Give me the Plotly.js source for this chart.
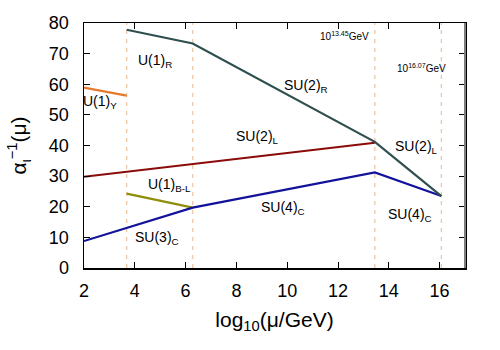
<!DOCTYPE html>
<html>
<head>
<meta charset="utf-8">
<script src="https://cdn.plot.ly/plotly-3.0.1.min.js"></script>
<style>body{margin:0;background:#fff}</style>
</head>
<body>
<div id="rge" style="width:500px;height:350px"></div>
<script>
// breaking scales (log10 of GeV)
var thresholds = [3.68, 6.28, 13.45, 16.07];

// running couplings, one array per segment
var u1yX = [2, 3.68], u1yY = [58.9, 56.3];
var rightX = [3.68, 6.28, 13.45, 16.07], rightY = [77.8, 73.3, 41.2, 23.5];
var su2lX = [2, 13.45], su2lY = [29.8, 40.9];
var colorX = [2, 6.28, 13.45, 16.07], colorY = [8.8, 19.7, 31.2, 23.5];
var bmlX = [3.68, 6.28], bmlY = [24.3, 19.7];

// labels
var labTxt = ['U(1)<sub>R</sub>', 'U(1)<sub>Y</sub>', 'SU(2)<sub>R</sub>', 'SU(2)<sub>L</sub>', 'SU(2)<sub>L</sub>',
  'U(1)<sub>B-L</sub>', 'SU(3)<sub>C</sub>', 'SU(4)<sub>C</sub>', 'SU(4)<sub>C</sub>'];
var labX = [4.8, 2.63, 10.75, 8.85, 15.1, 5.38, 4.88, 9.85, 14.85];
var labY = [67.6, 54.3, 59.5, 42.8, 39.6, 27.1, 9.8, 19.6, 17.3];
var scaleTxt = ['10<sup>13.45</sup>GeV', '10<sup>16.07</sup>GeV'];
var scaleX = [12.26, 15.3];
var scaleY = [75.8, 65.4];

function seg(x, y, c) {
  return {x: x, y: y, type: 'scatter', mode: 'lines', line: {color: c, width: 2.2}, hoverinfo: 'skip'};
}

var data = [
  seg(u1yX, u1yY, '#e5792c'),
  seg(su2lX, su2lY, '#8b0a0a'),
  seg(bmlX, bmlY, '#8e8e08'),
  seg(colorX, colorY, '#12129a'),
  seg(rightX, rightY, '#2f4f4f')
];

var shapes = thresholds.map(function (t) {
  return {type: 'line', xref: 'x', yref: 'y', x0: t, x1: t, y0: 0, y1: 80,
    line: {color: '#eec8a4', width: 1.3, dash: '4px,5px'}, layer: 'below'};
});
// gray right frame
shapes.push({type: 'line', xref: 'paper', yref: 'paper', x0: 1, x1: 1, y0: 0, y1: 1,
  line: {color: '#7f7f7f', width: 2}});

var annotations = labTxt.map(function (t, i) {
  return {x: labX[i], y: labY[i], text: t, showarrow: false, font: {size: 14, color: '#000'}};
}).concat(scaleTxt.map(function (t, i) {
  return {x: scaleX[i], y: scaleY[i], text: t, showarrow: false, font: {size: 10, color: '#000'}};
}));

var layout = {
  width: 500, height: 350,
  font: {family: 'Liberation Sans, Arial, sans-serif', color: '#000'},
  showlegend: false,
  margin: {l: 84, r: 35, t: 23, b: 82},
  plot_bgcolor: '#fff', paper_bgcolor: '#fff',
  xaxis: {
    range: [2, 17], tickvals: [2, 4, 6, 8, 10, 12, 14, 16],
    ticks: 'inside', ticklen: 6, tickcolor: '#000', mirror: 'ticks',
    showline: true, linecolor: '#000', linewidth: 1.5,
    showgrid: false, zeroline: false, tickfont: {size: 18}, ticklabelstandoff: 6,
    title: {text: 'log<sub>10</sub>(μ/GeV)', font: {size: 21}, standoff: 12}
  },
  yaxis: {
    range: [0, 80], dtick: 10,
    ticks: 'inside', ticklen: 6, tickcolor: '#000', mirror: 'ticks',
    showline: true, linecolor: '#000', linewidth: 1.5,
    showgrid: false, zeroline: false, tickfont: {size: 18}, ticklabelstandoff: 10,
    title: {text: 'α<sub>ι</sub><sup>−1</sup>(μ)', font: {size: 21}, standoff: 16}
  },
  shapes: shapes,
  annotations: annotations
};

Plotly.newPlot('rge', data, layout, {displayModeBar: false, staticPlot: true});
</script>
</body>
</html>
